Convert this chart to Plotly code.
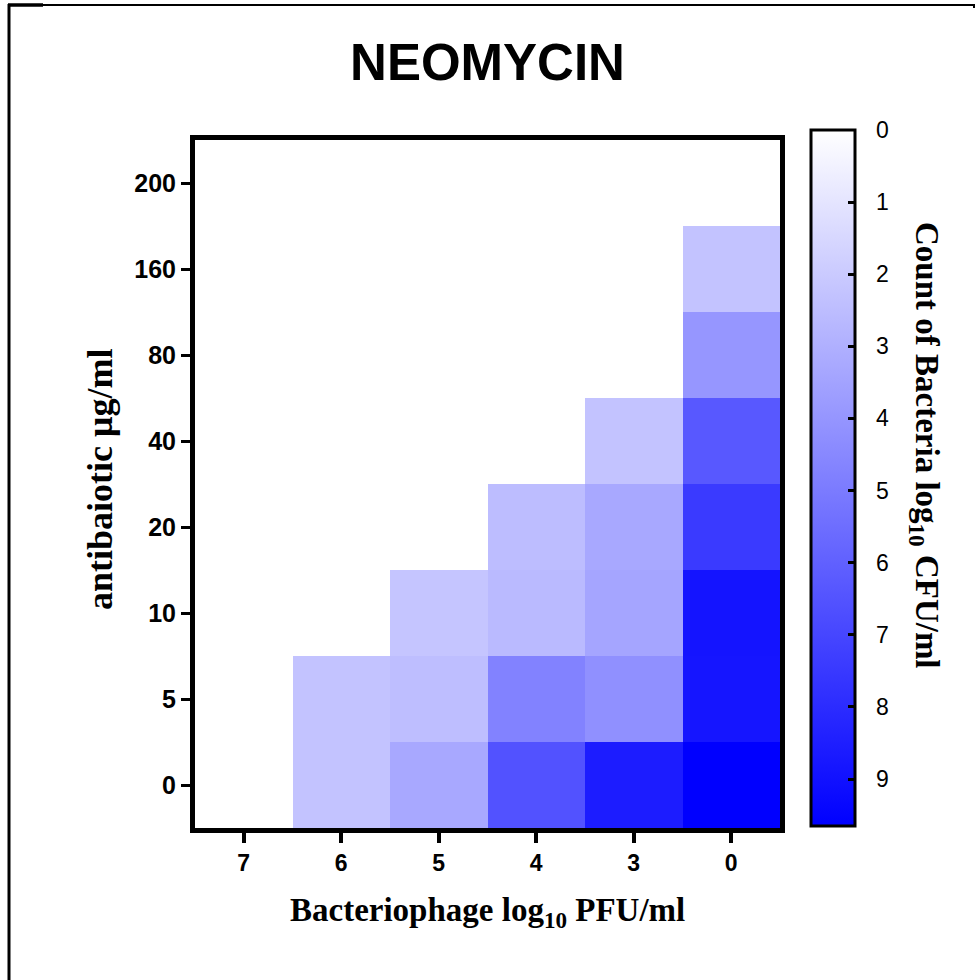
import plotly.graph_objects as go

# ---------------- data ----------------
phage_labels = ["7", "6", "5", "4", "3", "0"]          # x categories (log10 PFU/ml)
antibiotic_labels = ["0", "5", "10", "20", "40", "80", "160", "200"]  # y categories (µg/ml)

# log10 CFU/ml, rows = antibiotic (bottom->top), cols = phage (left->right); None = no growth
row_0   = [None, 2.27, 3.29, 6.55, 8.59, 9.65]
row_5   = [None, 2.27, 2.46, 4.73, 4.20, 8.86]
row_10  = [None, None, 2.20, 2.61, 3.41, 8.89]
row_20  = [None, None, None, 2.50, 3.29, 7.46]
row_40  = [None, None, None, None, 2.27, 6.32]
row_80  = [None, None, None, None, None, 3.97]
row_160 = [None, None, None, None, None, 2.27]
row_200 = [None, None, None, None, None, None]

cbar_ticks = [0, 1, 2, 3, 4, 5, 6, 7, 8, 9]
z_max = 9.65

rows = [row_0, row_5, row_10, row_20, row_40, row_80, row_160, row_200]
z_plot = [[(-v if v is not None else None) for v in r] for r in rows]

# ---------------- geometry ----------------
W_PX, H_PX = 976, 980
L, R, T, B = 195, 780, 140, 828
PW, PH = R - L, B - T

def px(x):
    return (x - L) / PW

def py(y):
    return (B - y) / PH

CB_TOP, CB_BOT = 130, 826
CB_LEFT = 811
CB_THICK = 44

fig = go.Figure()
fig.add_trace(go.Heatmap(
    x=phage_labels, y=antibiotic_labels, z=z_plot,
    zmin=-z_max, zmax=0,
    colorscale=[[0, "#0000FF"], [1, "#FFFFFF"]],
    xgap=0, ygap=0, hoverongaps=False,
    colorbar=dict(
        x=px(CB_LEFT), xanchor="left", xpad=0,
        y=py(CB_BOT), yanchor="bottom", ypad=0,
        len=CB_BOT - CB_TOP, lenmode="pixels",
        thickness=CB_THICK, thicknessmode="pixels",
        outlinewidth=3, outlinecolor="black",
        tickvals=[-t for t in cbar_ticks], ticktext=[str(t) for t in cbar_ticks],
        showticklabels=False,
        ticks="inside", ticklen=8, tickwidth=3, tickcolor="black",
    ),
))

fig.update_layout(
    width=W_PX, height=H_PX,
    margin=dict(l=L, r=W_PX - R, t=T, b=H_PX - B, pad=0),
    paper_bgcolor="white", plot_bgcolor="white",
    title=dict(text="<b>NEOMYCIN</b>", x=0.5, xanchor="center", xref="paper",
               y=1 - 62 / H_PX, yanchor="middle", yref="container",
               font=dict(family="Liberation Sans", size=51, color="black")),
    showlegend=False,
)
fig.update_xaxes(
    type="category", categoryorder="array", categoryarray=phage_labels,
    showline=True, linewidth=5, linecolor="black", mirror=True,
    ticks="outside", ticklen=10, tickwidth=4, tickcolor="black",
    tickfont=dict(family="Liberation Sans", size=23, color="black"),
    showgrid=False, zeroline=False, fixedrange=True,
    tickprefix="<b>", ticksuffix="</b>",
)
fig.update_yaxes(
    type="category", categoryorder="array", categoryarray=antibiotic_labels,
    showline=True, linewidth=5, linecolor="black", mirror=True,
    ticks="outside", ticklen=9, tickwidth=3, tickcolor="black",
    tickfont=dict(family="Liberation Sans", size=25, color="black"),
    showgrid=False, zeroline=False, fixedrange=True,
    tickprefix="<b>", ticksuffix="</b>",
)

# colorbar tick labels (placed to the right of the bar)
unit = (CB_BOT - CB_TOP) / z_max
for t in cbar_ticks:
    yy = CB_TOP + t * unit
    fig.add_annotation(
        text=str(t), x=px(874), y=py(yy), xref="paper", yref="paper",
        showarrow=False, xanchor="left", yanchor="middle",
        font=dict(family="Liberation Sans", size=23, color="black"),
    )

# axis titles as annotations
fig.add_annotation(
    text="<b>Bacteriophage log<sub>10</sub> PFU/ml</b>",
    x=0.5, y=py(913), xref="paper", yref="paper", showarrow=False,
    xanchor="center", yanchor="middle",
    font=dict(family="Liberation Serif", size=33, color="black"),
)
fig.add_annotation(
    text="<b>antibaiotic μg/ml</b>",
    x=px(100), y=py(480), xref="paper", yref="paper", showarrow=False,
    textangle=-90, xanchor="center", yanchor="middle",
    font=dict(family="Liberation Serif", size=36, color="black"),
)
fig.add_annotation(
    text="<b>Count of Bacteria log<sub>10</sub> CFU/ml</b>",
    x=px(925), y=py(445), xref="paper", yref="paper", showarrow=False,
    textangle=90, xanchor="center", yanchor="middle",
    font=dict(family="Liberation Serif", size=33, color="black"),
)

# left-side inner ticks of the colorbar
for t in cbar_ticks[1:]:
    yy = CB_TOP + t * unit
    fig.add_shape(type="line", xref="paper", yref="paper",
                  x0=px(CB_LEFT), x1=px(CB_LEFT + 9), y0=py(yy), y1=py(yy),
                  line=dict(color="black", width=3))

# outer frame lines of the figure
fig.add_shape(type="line", xref="paper", yref="paper",
              x0=px(9), x1=px(9), y0=py(4), y1=py(982), line=dict(color="black", width=3))
fig.add_shape(type="line", xref="paper", yref="paper",
              x0=px(8), x1=px(975), y0=py(5), y1=py(5), line=dict(color="black", width=2))
fig.add_shape(type="line", xref="paper", yref="paper",
              x0=px(8), x1=px(43), y0=py(5), y1=py(5), line=dict(color="black", width=3.5))
fig.add_shape(type="line", xref="paper", yref="paper",
              x0=px(974), x1=px(974), y0=py(4), y1=py(8), line=dict(color="black", width=2))

fig.write_html("out.html")
